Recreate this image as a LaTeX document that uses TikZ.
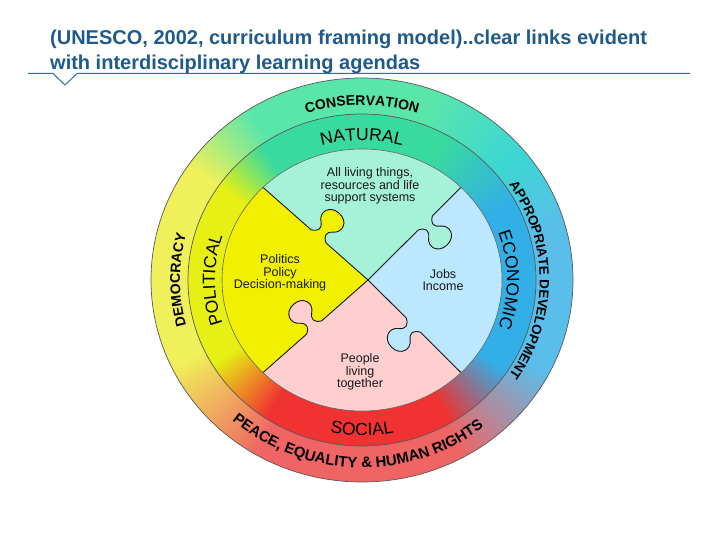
\documentclass[tikz,border=0pt]{standalone}
\usepackage{fontspec}
\setmainfont{Liberation Sans}
\usetikzlibrary{decorations.text}
\definecolor{titleblue}{HTML}{1E5A8C}
\definecolor{lineblue}{HTML}{2C6E9C}
\definecolor{oB}{HTML}{5ABEEB}
\definecolor{oC}{HTML}{3CD7D2}
\definecolor{oG}{HTML}{5AE6AA}
\definecolor{oY}{HTML}{F0F05A}
\definecolor{oR}{HTML}{F06464}
\definecolor{mB}{HTML}{32AFE6}
\definecolor{mG}{HTML}{38DAA0}
\definecolor{mY}{HTML}{E6F014}
\definecolor{mR}{HTML}{F03232}
\definecolor{qG}{HTML}{A6F2D8}
\definecolor{qB}{HTML}{BCE8FF}
\definecolor{qR}{HTML}{FFCFCF}
\definecolor{qY}{HTML}{F0F000}
\newcommand\knob{(-10,0) .. controls (-3.5,3.5) and (-2.3,8) .. (-8,12.7) .. controls (-16,18.4) and (-12.7,31) .. (0,31) .. controls (12.7,31) and (16,18.4) .. (8,12.7) .. controls (2.3,8) and (3.5,3.5) .. (10,0)}
\newcommand\obf{\fontsize{14}{16}\selectfont\bfseries}
\newcommand\obs{\fontsize{13.5}{16}\selectfont\bfseries}
\newcommand\obl{\fontsize{15}{17}\selectfont\bfseries}
\newcommand\mrf{\fontsize{17.5}{20}\selectfont}
\newcommand\ringband[5]{%
  \foreach \sa/\ea/\ca/\cb in {#5}{%
    \pgfmathtruncatemacro\eb{\ea-1}%
    \foreach \ang in {\sa,...,\eb}{%
      \pgfmathtruncatemacro\mixp{100*(\ang-\sa)/(\ea-\sa)}%
      \pgfmathsetmacro\bnd{\ang+1.5}%
      \fill[fill={\cb!\mixp!\ca}] (\ang:#3 and #4) arc[start angle=\ang, end angle=\bnd, x radius=#3, y radius=#4] -- (\bnd:#1 and #2) arc[start angle=\bnd, end angle=\ang, x radius=#1, y radius=#2] -- cycle;
    }}}
\begin{document}
\begin{tikzpicture}[x=1pt,y=1pt,
  ringline/.style={draw=black!65, line width=0.7pt},
  divider/.style={draw=black!90, line width=0.9pt, line join=round},
  innertext/.style={font=\fontsize{12.5}{12.5}\selectfont, text=black!90, align=center, inner sep=0pt},
  titletext/.style={font=\fontsize{20}{24}\selectfont\bfseries, text=titleblue, anchor=base west, inner sep=0pt},
  titleline/.style={draw=lineblue, line width=1pt}]
\useasboundingbox (0,0) rectangle (720,540);
\fill[white] (0,0) rectangle (720,540);
\node[titletext] (t1) at (50,495) {(UNESCO, 2002, curriculum framing model)..clear links evident};
\node[titletext] (t2) at (50,470) {with interdisciplinary learning agendas};
\coordinate (l0) at (28,466.5);
\coordinate (l1) at (53,466.5);
\coordinate (l2) at (65,455);
\coordinate (l3) at (77,466.5);
\coordinate (l4) at (690,466.5);
\draw[titleline] (l0) -- (l1) -- (l2) -- (l3) -- (l4);
\begin{scope}[shift={(362,260)}]
  % outer ring
  \ringband{173}{165}{211}{202}{0/15/oB/oB, 15/40/oB/oC, 40/70/oC/oG, 70/122/oG/oG, 122/145/oG/oY, 145/205/oY/oY, 205/240/oY/oR, 240/298/oR/oR, 298/332/oR/oB, 332/360/oB/oB}
  % middle ring
  \ringband{139}{130}{174}{166}{0/28/mB/mB, 28/60/mB/mG, 60/125/mG/mG, 125/145/mG/mY, 145/210/mY/mY, 210/236/mY/mR, 236/300/mR/mR, 300/326/mR/mB, 326/360/mB/mB}
  % quadrants
  \coordinate (P) at (6,0);
  \fill[qG] (P) -- (45:140 and 131) arc[start angle=45, end angle=135, x radius=140, y radius=131] -- cycle;
  \fill[qY] (P) -- (135:140 and 131) arc[start angle=135, end angle=225, x radius=140, y radius=131] -- cycle;
  \fill[qR] (P) -- (225:140 and 131) arc[start angle=225, end angle=315, x radius=140, y radius=131] -- cycle;
  \fill[qB] (P) -- (315:140 and 131) arc[start angle=315, end angle=405, x radius=140, y radius=131] -- cycle;
  % puzzle tabs and dividers
  \begin{scope}[shift={(-43.4,43.6)}, rotate=-41.4]
    \fill[qY] (-10,-1.5) -- \knob -- (10,-1.5) -- cycle;
    \draw[divider] (-74.3,0) -- \knob -- (66,0);
  \end{scope}
  \begin{scope}[shift={(63.4,57.2)}, rotate=-135.1]
    \fill[qG] (-10,-1.5) -- \knob -- (10,-1.5) -- cycle;
    \draw[divider] (-50.2,0) -- \knob -- (81,0);
  \end{scope}
  \begin{scope}[shift={(51.4,-45.2)}, rotate=135.1]
    \fill[qB] (-10,-1.5) -- \knob -- (10,-1.5) -- cycle;
    \draw[divider] (-67.2,0) -- \knob -- (64,0);
  \end{scope}
  \begin{scope}[shift={(-47.9,-47.5)}, rotate=41.4]
    \fill[qR] (-10,-1.5) -- \knob -- (10,-1.5) -- cycle;
    \draw[divider] (-68.3,0) -- \knob -- (72,0);
  \end{scope}
  % outlines
  \draw[ringline] (0,0) ellipse [x radius=211, y radius=202];
  \draw[ringline] (0,0) ellipse [x radius=174, y radius=166];
  \draw[draw=black!60, line width=0.6pt] (0,0) ellipse [x radius=140, y radius=131];
  % ring labels
  \path[decorate, decoration={text along path, text align=center, text={|\obf|CONSERVATION}}] (150:183 and 174.6) arc[start angle=150, end angle=30, x radius=183, y radius=174.6];
  \path[decorate, decoration={text along path, text align=center, text={|\obs|APPROPRIATE DEVELOPMENT}}] (60:177.7 and 169.6) arc[start angle=60, end angle=-60, x radius=177.7, y radius=169.6];
  \path[decorate, decoration={text along path, text align=center, text={|\obf|DEMOCRACY}}] (235:182 and 174) arc[start angle=235, end angle=125, x radius=182, y radius=174];
  \path[decorate, decoration={text along path, text align=center, text={|\obl|PEACE, EQUALITY {\&} HUMAN RIGHTS}}] (213.5:196 and 187.6) arc[start angle=213.5, end angle=323.5, x radius=196, y radius=187.6];
  \path[decorate, decoration={text along path, text align=center, text={|\mrf|NATURAL}}] (150:148 and 139.5) arc[start angle=150, end angle=30, x radius=148, y radius=139.5];
  \path[decorate, decoration={text along path, text align=center, text={|\mrf|ECONOMIC}}] (50:145 and 136) arc[start angle=50, end angle=-50, x radius=145, y radius=136];
  \path[decorate, decoration={text along path, text align=center, text={|\mrf|POLITICAL}}] (230:147 and 138) arc[start angle=230, end angle=130, x radius=147, y radius=138];
  \path[decorate, decoration={text along path, text align=center, text={|\mrf|SOCIAL}}] (220:164 and 155.5) arc[start angle=220, end angle=320, x radius=164, y radius=155.5];
\end{scope}
\node[innertext] (nat) at (370,354) {All living things,\\resources and life\\support systems};
\node[innertext] (pol) at (280,267) {Politics\\Policy\\Decision-making};
\node[innertext] (eco) at (443,260) {Jobs\\Income};
\node[innertext] (soc) at (360,168) {People\\living\\together};
\end{tikzpicture}
\end{document}
